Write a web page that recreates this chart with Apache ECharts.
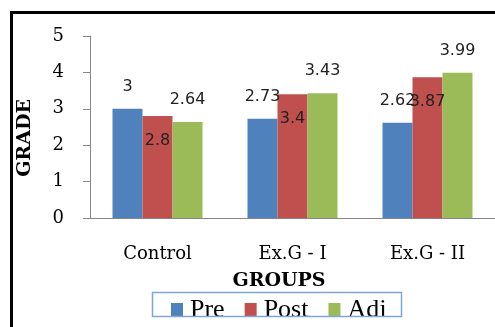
<!DOCTYPE html>
<html>
<head>
<meta charset="utf-8">
<script src="https://cdn.jsdelivr.net/npm/echarts@6/dist/echarts.min.js"></script>
<style>
  html, body { margin: 0; padding: 0; background: #fff; }
  #chart { width: 495px; height: 327px; }
</style>
</head>
<body>
<div id="chart"></div>
<script>
// Grade by group, measured before, after and adjusted
var groups = ['Control', 'Ex.G - I', 'Ex.G - II'];
var seriesNames = ['Pre', 'Post', 'Adj'];
var preValues = [3, 2.73, 2.62];
var postValues = [2.8, 3.4, 3.87];
var adjValues = [2.64, 3.43, 3.99];
var gradeTicks = [0, 1, 2, 3, 4, 5];

var serif = 'DejaVu Serif';
var times = 'Liberation Serif';
var sans = 'DejaVu Sans';
var colors = ['#4F81BD', '#C0504D', '#9BBB59'];

var chart = echarts.init(document.getElementById('chart'));

function barSeries(name, values, color, labelPos, dist) {
  return {
    name: name,
    type: 'bar',
    data: values,
    barWidth: 30,
    barGap: '0%',
    itemStyle: { color: color },
    label: {
      show: true,
      position: labelPos,
      distance: dist,
      fontFamily: sans,
      fontSize: 16,
      color: '#222'
    }
  };
}

chart.setOption({
  animation: false,
  color: colors,
  grid: { left: 90, top: 36, right: -4, bottom: 109, containLabel: false },
  xAxis: {
    type: 'category',
    data: groups,
    name: 'GROUPS',
    nameLocation: 'middle',
    nameGap: 54,
    nameTextStyle: { fontFamily: serif, fontWeight: 'bold', fontSize: 19, color: '#000', padding: [0, 27, 0, 0] },
    axisLine: { lineStyle: { color: '#868686', width: 1 } },
    axisTick: { show: false },
    axisLabel: { margin: 27, fontFamily: serif, fontSize: 18, color: '#000' }
  },
  yAxis: {
    type: 'value',
    min: gradeTicks[0],
    max: gradeTicks[gradeTicks.length - 1],
    interval: 1,
    name: 'GRADE',
    nameLocation: 'middle',
    nameRotate: 90,
    nameGap: 55,
    nameTextStyle: { fontFamily: serif, fontWeight: 'bold', fontSize: 19, color: '#000', padding: [0, 22, 0, 0] },
    axisLine: { show: true, lineStyle: { color: '#868686', width: 1 } },
    axisTick: { show: true, length: 7, lineStyle: { color: '#868686' } },
    splitLine: { show: false },
    axisLabel: { margin: 26, fontFamily: serif, fontSize: 18, color: '#000' }
  },
  legend: {
    data: seriesNames,
    icon: 'rect',
    left: 171,
    top: 297,
    padding: 0,
    itemGap: 20,
    itemWidth: 12,
    itemHeight: 14,
    textStyle: { fontFamily: times, fontSize: 26, color: '#000', padding: [0, 0, 0, 2] }
  },
  graphic: [
    // mask the lower edge of the legend text
    { type: 'rect', z: 100, shape: { x: 14, y: 317, width: 490, height: 20 }, style: { fill: '#fff' } },
    // legend frame
    { type: 'rect', z: 101, shape: { x: 152.5, y: 292.5, width: 249, height: 24 }, style: { fill: 'none', stroke: '#7FA6D8', lineWidth: 1.5 } },
    // outer frame
    { type: 'rect', z: 102, shape: { x: 11.5, y: 12.5, width: 500, height: 330 }, style: { fill: 'none', stroke: '#000', lineWidth: 3 } }
  ],
  series: [
    barSeries(seriesNames[0], preValues, colors[0], 'top', 14),
    barSeries(seriesNames[1], postValues, colors[1], 'insideTop', 17),
    barSeries(seriesNames[2], adjValues, colors[2], 'top', 14)
  ]
});
</script>
</body>
</html>
